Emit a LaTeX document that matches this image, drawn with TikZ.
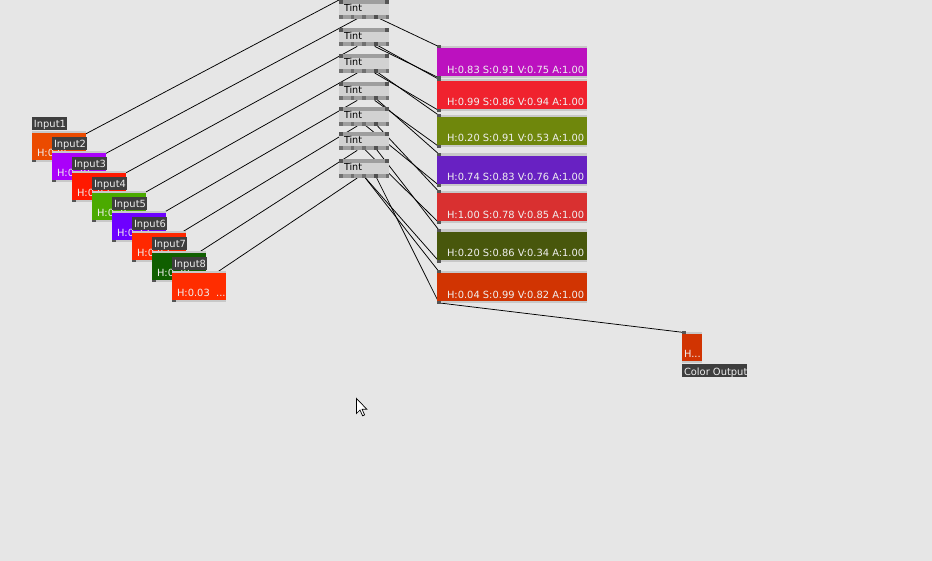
\documentclass[tikz,border=0pt]{standalone}
\usepackage{fontspec}
\setmainfont{DejaVu Sans}
\pgfdeclarelayer{wires}
\pgfdeclarelayer{back}
\pgfsetlayers{back,wires,main}
\definecolor{bgc}{RGB}{230,230,230}
\definecolor{labc}{RGB}{62,62,62}
\definecolor{labtxt}{RGB}{238,238,238}
\definecolor{stripc}{RGB}{200,200,200}
\definecolor{pinc}{RGB}{85,85,85}
\definecolor{tbar}{RGB}{158,158,158}
\definecolor{tbody}{RGB}{210,210,210}
\definecolor{tpin}{RGB}{112,112,112}
\definecolor{tpind}{RGB}{80,80,80}
\definecolor{valtxt}{RGB}{240,240,240}
\definecolor{cin1}{RGB}{235,75,0}
\definecolor{cin2}{RGB}{170,0,250}
\definecolor{cin3}{RGB}{255,25,0}
\definecolor{cin4}{RGB}{75,170,0}
\definecolor{cin5}{RGB}{110,0,255}
\definecolor{cin6}{RGB}{255,40,0}
\definecolor{cin7}{RGB}{16,95,0}
\definecolor{cin8}{RGB}{255,45,0}
\definecolor{cp1}{RGB}{188,17,191}
\definecolor{cp2}{RGB}{240,34,46}
\definecolor{cp3}{RGB}{111,135,12}
\definecolor{cp4}{RGB}{104,33,194}
\definecolor{cp5}{RGB}{217,48,48}
\definecolor{cp6}{RGB}{72,87,12}
\definecolor{cp7}{RGB}{209,52,2}
\tikzset{
  txt/.style={font=\fontsize{9.9}{10}\selectfont, inner sep=0pt, outer sep=0pt, anchor=base west},
  blk/.style={inner sep=0pt, outer sep=0pt, anchor=north west, draw=none},
  wire/.style={draw=black, line width=0.75pt},
}
% input box: #1 id, #2 x, #3 y (label top), #4 colour, #5 value text
\newcommand\myinput[5]{%
  \node[blk, fill=labc, minimum width=35pt, minimum height=13pt] (#1lab) at (#2,#3) {};
  \node[txt, text=labtxt] at (#2+2,#3+11) {Input#1};
  \node[blk, fill=stripc, minimum width=54pt, minimum height=2pt] at (#2,#3+13.7) {};
  \node[blk, fill=#4, minimum width=54pt, minimum height=27.3pt] (#1box) at (#2,#3+15.7) {};
  \node[txt, text=valtxt] at (#2+5,#3+40) {#5};
  \node[blk, fill=stripc, minimum width=54pt, minimum height=2pt] at (#2,#3+43) {};
  \node[blk, fill=pinc, minimum width=4pt, minimum height=2.5pt] (in#1) at (#2,#3+43) {};
}
% tint node: #1 id, #2 top
\newcommand\mytint[2]{%
  \node[blk, fill=tbar, minimum width=50pt, minimum height=4pt] (t#1top) at (339,#2) {};
  \node[blk, fill=pinc, minimum width=4pt, minimum height=4pt] (t#1a) at (339,#2) {};
  \node[blk, fill=pinc, minimum width=4pt, minimum height=4pt] (t#1b) at (385,#2) {};
  \node[blk, fill=tbody, minimum width=50pt, minimum height=10.7pt] (t#1) at (339,#2+4) {};
  \node[txt, font=\fontsize{9.6}{10}\selectfont] at (344,#2+11.7) {Tint};
  \node[blk, fill=tbar, minimum width=50pt, minimum height=4pt] at (339,#2+14.7) {};
  \node[blk, fill=tpin, minimum width=3.5pt, minimum height=4pt] (t#1o1) at (339,#2+14.7) {};
  \node[blk, fill=tpin, minimum width=3.5pt, minimum height=4pt] (t#1o2) at (350.7,#2+14.7) {};
  \node[blk, fill=tpin, minimum width=3.5pt, minimum height=4pt] (t#1o3) at (362,#2+14.7) {};
  \node[blk, fill=tpind, minimum width=4pt, minimum height=4pt] (t#1o4) at (373.7,#2+14.7) {};
  \node[blk, fill=tpin, minimum width=3.5pt, minimum height=4pt] (t#1o5) at (385.5,#2+14.7) {};
}
% panel: #1 id, #2 top, #3 colour, #4 text
\newcommand\mypanel[4]{%
  \node[blk, fill=stripc, minimum width=150pt, minimum height=2.2pt] at (437,#2) {};
  \node[blk, fill=pinc, minimum width=4pt, minimum height=3pt] (p#1i) at (437,#2-0.8) {};
  \node[blk, fill=#3, minimum width=150pt, minimum height=28.2pt] (p#1) at (437,#2+2.2) {};
  \node[txt, text=valtxt] at (447,#2+27.3) {#4};
  \node[blk, fill=stripc, minimum width=150pt, minimum height=2pt] at (437,#2+30.4) {};
  \node[blk, fill=pinc, minimum width=4pt, minimum height=3pt] (p#1o) at (437,#2+30.4) {};
}
\begin{document}
\begin{tikzpicture}[x=1pt,y=-1pt]
\begin{pgfonlayer}{back}
\fill[bgc] (0,0) rectangle (932,561);
\end{pgfonlayer}
\useasboundingbox (0,0) rectangle (932,561);
\clip (0,0) rectangle (932,561);
\coordinate (t0end) at (356,-9);

\myinput{1}{32}{117}{cin1}{H:0.05\ \ ...}
\myinput{2}{52}{137}{cin2}{H:0.78\ \ ...}
\myinput{3}{72}{157}{cin3}{H:0.02\ \ ...}
\myinput{4}{92}{177}{cin4}{H:0.26\ \ ...}
\myinput{5}{112}{197}{cin5}{H:0.72\ \ ...}
\myinput{6}{132}{217}{cin6}{H:0.02\ \ ...}
\myinput{7}{152}{237}{cin7}{H:0.30\ \ ...}
\myinput{8}{172}{257}{cin8}{H:0.03\ \ ...}

\mytint{1}{0}
\mytint{2}{27.7}
\mytint{3}{54.3}
\mytint{4}{81.7}
\mytint{5}{107.3}
\mytint{6}{131.7}
\mytint{7}{159.3}

\mypanel{1}{46}{cp1}{H:0.83\ S:0.91\ V:0.75\ A:1.00}
\mypanel{2}{78.7}{cp2}{H:0.99\ S:0.86\ V:0.94\ A:1.00}
\mypanel{3}{114.7}{cp3}{H:0.20\ S:0.91\ V:0.53\ A:1.00}
\mypanel{4}{153.5}{cp4}{H:0.74\ S:0.83\ V:0.76\ A:1.00}
\mypanel{5}{191}{cp5}{H:1.00\ S:0.78\ V:0.85\ A:1.00}
\mypanel{6}{229.5}{cp6}{H:0.20\ S:0.86\ V:0.34\ A:1.00}
\mypanel{7}{271}{cp7}{H:0.04\ S:0.99\ V:0.82\ A:1.00}

% colour output
\node[blk, fill=stripc, minimum width=20pt, minimum height=2pt] at (682,332) {};
\node[blk, fill=pinc, minimum width=4pt, minimum height=3pt] (coi) at (682,331) {};
\node[blk, fill=cp7, minimum width=20pt, minimum height=26.7pt] (co) at (682,334) {};
\node[txt, text=valtxt] at (684,357.5) {H...};
\node[blk, fill=stripc, minimum width=20pt, minimum height=2pt] at (682,360.7) {};
\node[blk, fill=labc, minimum width=65.3pt, minimum height=13.3pt] (colab) at (682,364) {};
\node[txt, text=labtxt] at (684,375) {Color Output};

% cursor
\filldraw[fill=white, draw=black, line width=0.7pt, line join=miter]
  (356.5,398.5) -- ++(0,15) -- ++(3.5,-3.5) -- ++(2.6,5.8) -- ++(2,-0.9) -- ++(-2.5,-5.6) -- ++(4.8,0) -- cycle;

\begin{pgfonlayer}{wires}
\draw[wire] (in1.center) -- (t0end);
\foreach \k/\j in {2/1,3/2,4/3,5/4,6/5,7/6,8/7}{
  \draw[wire] (in\k.center) -- ([xshift=3pt]t\j o2.south east);
}
% tint outputs to the panel inputs
\foreach \k in {1,...,6}{
  \draw[wire] (t\k o4.center) -- (p\k i.center);
}
\draw[wire] (t7o3.center) -- (p7i.center);
% tint outputs to the panel above
\foreach \k/\j in {2/1,3/2,4/3}{
  \draw[wire] ([xshift=-1pt]t\k o4.south) -- (p\j o.center);
}
\foreach \k/\j in {5/4,6/5,7/6}{
  \draw[wire] (t\k o3.center) -- (p\j o.center);
}
\draw[wire] (t7o4.center) -- (p7o.center);
\draw[wire] (p7o.center) -- (coi.center);
\end{pgfonlayer}
\end{tikzpicture}
\end{document}
